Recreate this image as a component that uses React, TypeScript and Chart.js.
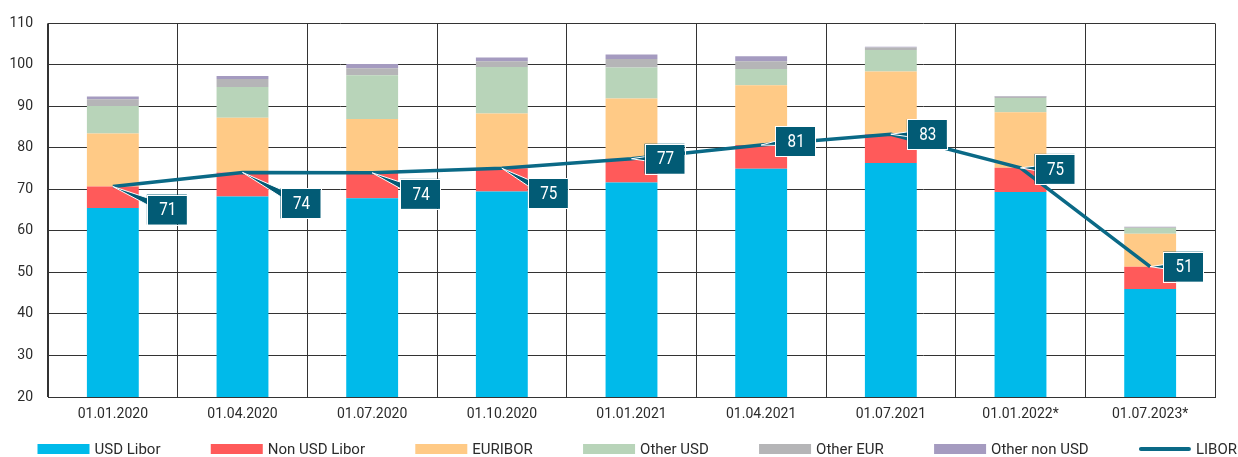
import React, { useEffect, useRef } from 'react';
import { Chart, registerables } from 'chart.js';

Chart.register(...registerables);

// ---- data ----
const categories = [
  '01.01.2020', '01.04.2020', '01.07.2020', '01.10.2020', '01.01.2021',
  '01.04.2021', '01.07.2021', '01.01.2022*', '01.07.2023*',
];
const usdLibor = [65.5, 68.3, 67.9, 69.5, 71.7, 75.0, 76.4, 69.4, 46.0];
const nonUsdLibor = [5.2, 5.8, 6.1, 5.6, 5.7, 5.7, 6.9, 5.8, 5.4];
const euribor = [12.8, 13.2, 13.0, 13.2, 14.5, 14.4, 15.1, 13.4, 7.9];
const otherUsd = [6.6, 7.4, 10.5, 11.2, 7.5, 3.9, 5.2, 3.4, 1.4];
const otherEur = [1.6, 1.9, 1.7, 1.4, 2.0, 1.9, 0.6, 0.4, 0.2];
const otherNonUsd = [0.7, 0.7, 1.0, 0.9, 1.1, 1.2, 0.2, 0.1, 0.1];
const libor = [70.7, 74.1, 74.0, 75.1, 77.4, 80.7, 83.3, 75.2, 51.4];
const liborLabels = ['71', '74', '74', '75', '77', '81', '83', '75', '51'];
const yMin = 20;
const yMax = 110;
const yStep = 10;

// ---- layout / style config (not data) ----
const labelOffsets: [number, number][] = [
  [54, 23], [58, 31], [48, 21], [46, 25], [33, 0], [34, -4], [36, 0], [34, 1], [33, 0],
];
const COLORS = {
  usd: '#00BAEA',
  nonUsd: '#FF5A5A',
  euribor: '#FFCA86',
  otherUsd: '#B8D4B9',
  otherEur: '#B5B5B7',
  otherNonUsd: '#A59BC0',
  libor: '#0A6986',
  box: '#025B75',
  text: '#2b2b2b',
  grid: '#333333',
};
const FONT = 'Roboto, "Noto Sans", sans-serif';

const calloutPlugin = {
  id: 'calloutLabels',
  afterDatasetsDraw(chart: any) {
    const idx = chart.data.datasets.findIndex((d: any) => d.type === 'line');
    if (idx < 0) return;
    const meta = chart.getDatasetMeta(idx);
    const ctx = chart.ctx as CanvasRenderingContext2D;
    const w = 40;
    const h = 30;
    meta.data.forEach((pt: any, i: number) => {
      const [dx, dy] = labelOffsets[i] || [34, 0];
      const cx = pt.x + dx;
      const cy = pt.y + dy;
      const vx = pt.x - cx;
      const vy = pt.y - cy;
      const len = Math.hypot(vx, vy) || 1;
      const px = -vy / len;
      const py = vx / len;
      const bw = 5;
      ctx.save();
      ctx.beginPath();
      ctx.moveTo(pt.x, pt.y);
      ctx.lineTo(cx + px * bw, cy + py * bw);
      ctx.lineTo(cx - px * bw, cy - py * bw);
      ctx.closePath();
      ctx.fillStyle = COLORS.box;
      ctx.fill();
      ctx.strokeStyle = '#ffffff';
      ctx.lineWidth = 1;
      ctx.stroke();
      ctx.fillStyle = COLORS.box;
      ctx.fillRect(cx - w / 2, cy - h / 2, w, h);
      ctx.strokeRect(Math.round(cx - w / 2) + 0.5, Math.round(cy - h / 2) + 0.5, w, h);
      ctx.fillStyle = '#ffffff';
      ctx.font = `19px ${FONT}`;
      ctx.textAlign = 'center';
      ctx.textBaseline = 'middle';
      ctx.translate(cx + 1, cy + 1);
      ctx.scale(0.8, 1);
      ctx.fillText(liborLabels[i], 0, 0);
      ctx.restore();
    });
  },
};

const legendPlugin = {
  id: 'bottomLegend',
  afterDraw(chart: any) {
    const ctx = chart.ctx as CanvasRenderingContext2D;
    const datasets = chart.data.datasets;
    const boxW = 52;
    const boxH = 10;
    const textGap = 5;
    const startX = 37.5;
    const endX = 1237;
    const y = 449;
    ctx.save();
    ctx.font = `15px ${FONT}`;
    const widths = datasets.map((d: any) => boxW + textGap + ctx.measureText(d.label).width);
    const total = widths.reduce((a: number, b: number) => a + b, 0);
    const gap = (endX - startX - total) / (datasets.length - 1);
    let x = startX;
    datasets.forEach((d: any, i: number) => {
      if (d.type === 'line') {
        ctx.strokeStyle = d.borderColor;
        ctx.lineWidth = 4;
        ctx.lineCap = 'round';
        ctx.beginPath();
        ctx.moveTo(x + 2, y);
        ctx.lineTo(x + boxW - 2, y);
        ctx.stroke();
      } else {
        ctx.fillStyle = d.backgroundColor;
        ctx.fillRect(x, y - boxH / 2, boxW, boxH);
      }
      ctx.fillStyle = COLORS.text;
      ctx.textAlign = 'left';
      ctx.textBaseline = 'middle';
      ctx.fillText(d.label, x + boxW + textGap, y + 1);
      x += widths[i] + gap;
    });
    ctx.restore();
  },
};

export default function App() {
  const canvasRef = useRef<HTMLCanvasElement | null>(null);

  useEffect(() => {
    if (!canvasRef.current) return;
    const bar = (label: string, data: number[], color: string) => ({
      type: 'bar' as const,
      label,
      data,
      backgroundColor: color,
      borderWidth: 0,
      stack: 'rates',
      order: 1,
      barPercentage: 0.4,
      categoryPercentage: 1,
    });
    const chart = new Chart(canvasRef.current, {
      type: 'bar',
      data: {
        labels: categories,
        datasets: [
          bar('USD Libor', usdLibor, COLORS.usd),
          bar('Non USD Libor', nonUsdLibor, COLORS.nonUsd),
          bar('EURIBOR', euribor, COLORS.euribor),
          bar('Other USD', otherUsd, COLORS.otherUsd),
          bar('Other EUR', otherEur, COLORS.otherEur),
          bar('Other non USD', otherNonUsd, COLORS.otherNonUsd),
          {
            type: 'line' as const,
            label: 'LIBOR',
            data: libor,
            borderColor: COLORS.libor,
            backgroundColor: COLORS.libor,
            borderWidth: 3.5,
            pointRadius: 0,
            tension: 0,
            stack: 'libor',
            order: 0,
          } as any,
        ],
      },
      options: {
        responsive: false,
        animation: false,
        devicePixelRatio: 1,
        layout: { padding: { left: 0, right: 23, top: 21, bottom: 24 } },
        plugins: {
          legend: { display: false },
          tooltip: { enabled: false },
          title: { display: false },
        },
        scales: {
          x: {
            stacked: true,
            grid: { color: COLORS.grid, lineWidth: 1, drawTicks: false, offset: true },
            border: { color: COLORS.grid, width: 1 },
            ticks: { color: COLORS.text, font: { family: FONT, size: 14 }, padding: 9, maxRotation: 0 },
            afterFit: (scale: any) => { scale.height = 36; },
          },
          y: {
            stacked: true,
            min: yMin,
            max: yMax,
            grid: { color: COLORS.grid, lineWidth: 1, drawTicks: false },
            border: { color: COLORS.grid, width: 1 },
            ticks: { stepSize: yStep, color: COLORS.text, font: { family: FONT, size: 14 }, padding: 15 },
            afterFit: (scale: any) => { scale.width = 48; },
          },
        },
      },
      plugins: [calloutPlugin, legendPlugin],
    } as any);
    return () => chart.destroy();
  }, []);

  return (
    <div style={{ position: 'absolute', left: 0, top: 0, width: 1238, height: 457, background: '#fff' }}>
      <canvas ref={canvasRef} width={1238} height={457} />
    </div>
  );
}
